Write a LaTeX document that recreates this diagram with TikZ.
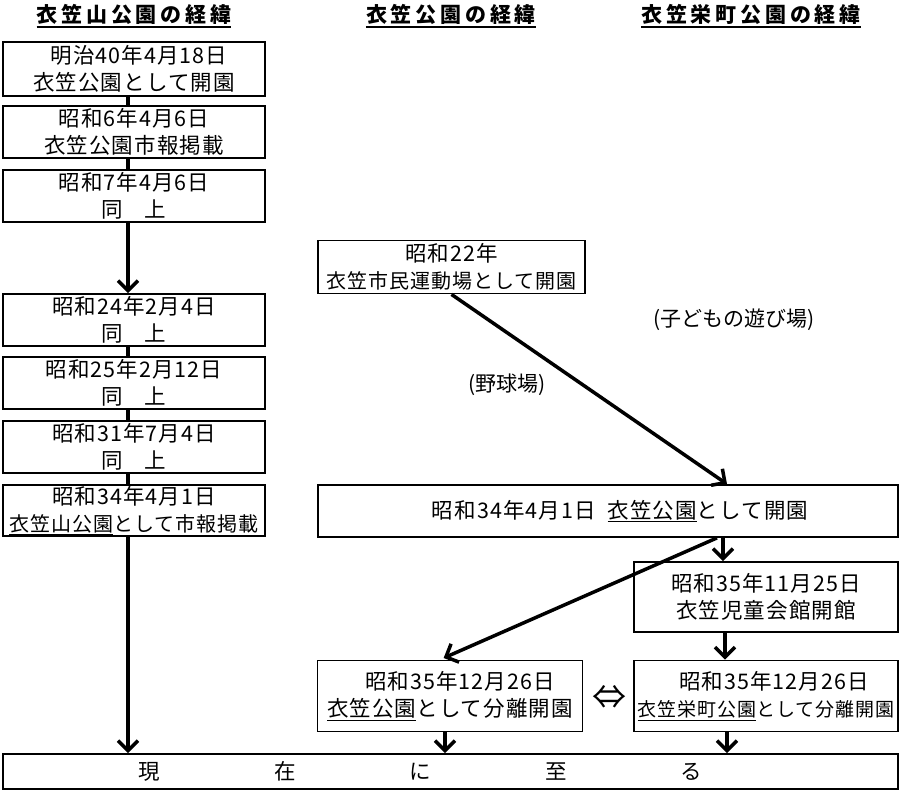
\documentclass[tikz,border=0pt]{standalone}
\usepackage{fontspec}
\setmainfont{Noto Sans CJK JP}
\usetikzlibrary{arrows.meta}
\tikzset{
  >={Straight Barb[length=10pt,width=20pt]},
  box/.style={draw, line width=1.8pt, inner sep=0pt, align=center,
    minimum width=262pt, minimum height=52pt,
    font=\fontsize{21.5}{27}\selectfont\addfontfeature{LetterSpace=5}},
  head/.style={inner sep=0pt, anchor=base,
    font=\fontsize{21}{24}\selectfont\bfseries\addfontfeature{LetterSpace=18}},
  note/.style={inner sep=0pt, font=\fontsize{21}{24}\selectfont},
  link/.style={line width=4.5pt},
  flow/.style={->, line width=3.5pt},
  uline/.style={line width=2pt}
}
\newcommand{\smallline}[1]{{\fontsize{19}{24}\selectfont #1}}

\begin{document}
\begin{tikzpicture}[x=1pt,y=-1pt]
\useasboundingbox (0,0) rectangle (900,792);

\node[head] (h0) at (134,23) {衣笠山公園の経緯};
\node[head] (h1) at (451,23) {衣笠公園の経緯};
\node[head] (h2) at (751,23) {衣笠栄町公園の経緯};
\foreach \h in {h0,h1,h2}
  \draw[uline] ([yshift=-4pt]\h.base west) -- ([yshift=-4pt]\h.base east);

% left column
\node[box, minimum height=54pt] (0-1) at (134,69) {\hspace{10pt}明治40年4月18日\\衣笠公園として開園};
\node[box] (0-2) at (134,132) {昭和6年4月6日\\衣笠公園市報掲載};
\node[box] (0-3) at (134,196) {昭和7年4月6日\\同\quad 上};
\node[box] (0-4) at (134,320) {昭和24年2月4日\\同\quad 上};
\node[box] (0-5) at (134,383) {昭和25年2月12日\\同\quad 上};
\node[box] (0-6) at (134,447) {昭和31年7月4日\\同\quad 上};
\node[box, minimum height=51pt] (0-7) at (134,510.5)
  {昭和34年4月1日\\{\fontsize{20}{27}\selectfont\underline{衣笠山公園}として市報掲載}};

% middle and right
\node[box, minimum width=267pt, minimum height=53pt] (1-1) at (451.5,267)
  {昭和22年\\{\fontsize{20}{24}\selectfont 衣笠市民運動場として開園}};
\node[box, minimum width=580pt] (1-2) at (608,511)
  {\hspace{24pt}昭和34年4月1日\hspace{12pt}\underline{衣笠公園}として開園};
\node[box, minimum width=264pt, minimum height=70pt] (2-2) at (766,597)
  {昭和35年11月25日\\衣笠児童会館開館};
\node[box, minimum width=265pt, minimum height=71pt] (1-3) at (450,696)
  {\hspace{20pt}昭和35年12月26日\\\underline{衣笠公園}として分離開園};
\node[box, minimum width=264pt, minimum height=71pt] (2-3) at (766,696)
  {\hspace{16pt}昭和35年12月26日\\\smallline{\underline{衣笠栄町公園}として分離開園}};
\node[box, minimum width=895pt, minimum height=35pt] (0-8) at (450.5,771.5)
  {現\hspace{114pt}在\hspace{114pt}に\hspace{114pt}至\hspace{114pt}る\hspace{60pt}};

\node[note] (kids) at (734,320) {(子どもの遊び場)};
\node[note] (ball) at (507,385) {(野球場)};
\node[inner sep=0pt, font=\fontsize{34}{34}\selectfont] (eq) at (609,697) {⇔};

% connectors
\foreach \a/\b in {1/2,2/3,4/5,5/6,6/7}
  \draw[link] ([xshift=-6pt]0-\a.south) -- ([xshift=-6pt]0-\b.north);

\coordinate (l7) at ([xshift=-6pt]0-7.south);
\coordinate (m2) at ([xshift=-43pt]2-2.north);
\coordinate (m3) at ([xshift=-5pt]1-3.south);
\coordinate (r3) at ([xshift=-39pt]2-3.south);

\path[flow] ([xshift=-6pt]0-3.south) edge ([xshift=-6pt]0-4.north)
            (l7) edge (l7 |- 0-8.north)
            (1-1.south) edge ([xshift=119pt]1-2.north)
            (m2 |- 1-2.south) edge (m2)
            ([xshift=109pt]1-2.south) edge[shorten >=4pt] ([xshift=-10pt]1-3.north)
            ([xshift=-41pt]2-2.south) edge ([xshift=-41pt]2-3.north)
            (m3) edge (m3 |- 0-8.north)
            (r3) edge (r3 |- 0-8.north);
\end{tikzpicture}
\end{document}
